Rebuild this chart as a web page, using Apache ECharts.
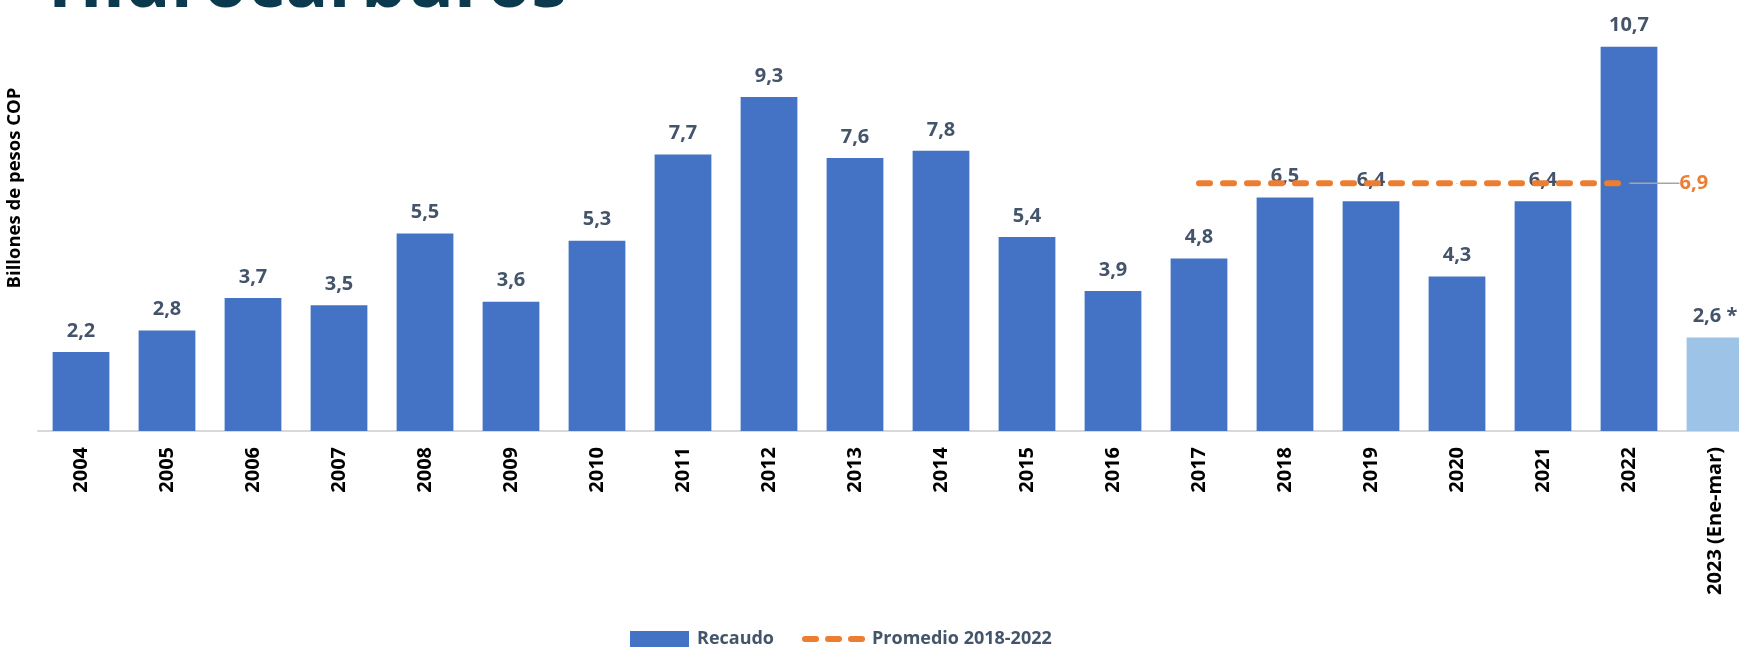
<!DOCTYPE html>
<html>
<head>
<meta charset="utf-8">
<script src="https://cdn.jsdelivr.net/npm/echarts@6/dist/echarts.min.js"></script>
<style>
  html, body { margin: 0; padding: 0; background: #fff; }
  #chart { width: 1739px; height: 647px; }
</style>
</head>
<body>
<div id="chart"></div>
<script>
// datos del gráfico
const years = ['2004', '2005', '2006', '2007', '2008', '2009', '2010', '2011', '2012', '2013',
  '2014', '2015', '2016', '2017', '2018', '2019', '2020', '2021', '2022', '2023 (Ene-mar)']
const recaudo = [2.2, 2.8, 3.7, 3.5, 5.5, 3.6, 5.3, 7.7, 9.3, 7.6, 7.8, 5.4, 3.9, 4.8, 6.5, 6.4, 4.3, 6.4, 10.7, 2.6]
const promedio = [null, null, null, null, null, null, null, null, null, null, null, null, null,
  6.9, 6.9, 6.9, 6.9, 6.9, 6.9, null]
const partialYear = '2023 (Ene-mar)'

const FONT = '"Open Sans", "Noto Sans", sans-serif'
const fmt = v => v.toFixed(1).replace('.', ',')

let chart = echarts.init(document.getElementById('chart'))

// el último año va en azul claro
const barData = recaudo.map((v, i) => {
  if (years[i] === partialYear) {
    return { value: v, itemStyle: { color: '#9DC3E6' } }
  }
  return v
})

// sólo el último punto del promedio lleva etiqueta
let lastIdx = -1
promedio.forEach((v, i) => { if (v != null) lastIdx = i })
const lineData = promedio.map((v, i) => {
  if (i === lastIdx) {
    return {
      value: v,
      label: {
        show: true,
        position: 'right',
        distance: 6,
        padding: [0, 0, 0, 9],
        formatter: p => fmt(p.value),
        color: '#ED7D31',
        fontWeight: 'bold',
        fontSize: 20,
        fontFamily: FONT,
      },
    }
  }
  return v
})

chart.setOption({
  animation: false,
  graphic: [
    // título cortado arriba
    {
      type: 'text',
      left: 48,
      top: -50,
      style: {
        text: 'Hidrocarburos',
        fill: '#0B3A4F',
        font: 'bold 72px ' + FONT,
      },
    },
    // título del eje y
    {
      type: 'text',
      x: 15,
      y: 188,
      rotation: Math.PI / 2,
      style: {
        text: 'Billones de pesos COP',
        fill: '#000',
        font: 'bold 18.5px ' + FONT,
        align: 'center',
        verticalAlign: 'middle',
      },
    },
  ],
  legend: {
    left: 630,
    top: 630,
    padding: 0,
    itemWidth: 59,
    itemHeight: 16,
    itemGap: 28,
    textStyle: {
      color: '#44546A',
      fontWeight: 'bold',
      fontSize: 18,
      fontFamily: FONT,
      padding: [0, 0, 0, 3],
    },
    data: [
      { name: 'Recaudo', icon: 'rect' },
      {
        name: 'Promedio 2018-2022',
        itemStyle: { color: 'transparent', borderWidth: 0 },
        lineStyle: { color: '#ED7D31', width: 6, type: [11, 12], cap: 'round' },
      },
    ],
  },
  grid: {
    left: 38,
    width: 1720,
    top: 0,
    bottom: 216,
    containLabel: false,
    outerBoundsMode: 'none',
  },
  xAxis: {
    type: 'category',
    data: years,
    axisLine: { show: true, lineStyle: { color: '#D9D9D9', width: 2 } },
    axisTick: { show: false },
    axisLabel: {
      rotate: 90,
      interval: 0,
      margin: 16,
      color: '#000',
      fontWeight: 'bold',
      fontSize: 20,
      fontFamily: FONT,
    },
  },
  yAxis: {
    type: 'value',
    min: 0,
    max: 12,
    show: false,
    splitLine: { show: false },
  },
  series: [
    {
      name: 'Recaudo',
      type: 'bar',
      data: barData,
      barCategoryGap: '34%',
      itemStyle: { color: '#4472C4' },
      label: {
        show: true,
        position: 'top',
        distance: 11,
        color: '#44546A',
        fontWeight: 'bold',
        fontSize: 20,
        fontFamily: FONT,
        formatter: p => fmt(p.value) + (years[p.dataIndex] === partialYear ? ' *' : ''),
      },
      z: 2,
    },
    {
      name: 'Promedio 2018-2022',
      type: 'line',
      data: lineData,
      symbol: 'circle',
      symbolSize: 1,
      itemStyle: { color: '#ED7D31' },
      lineStyle: { color: '#ED7D31', width: 6, type: [11, 13], cap: 'round' },
      labelLayout: { dx: 35 },
      labelLine: { show: true, lineStyle: { color: '#A5A5A5', width: 1.5 } },
      z: 3,
    },
  ],
})
</script>
</body>
</html>
